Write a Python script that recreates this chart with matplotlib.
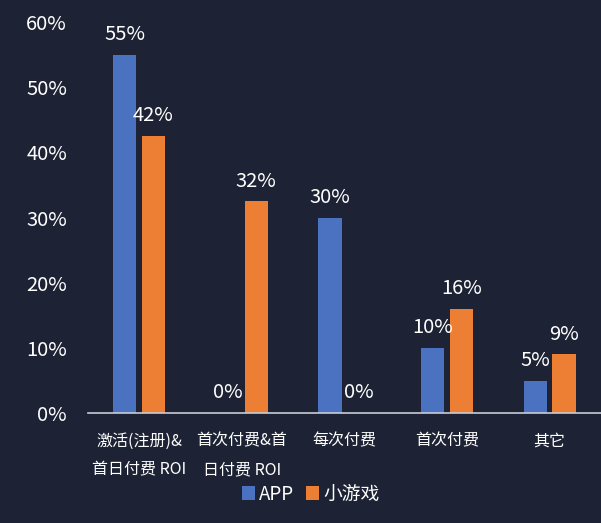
import numpy as np
import matplotlib.pyplot as plt

plt.rcParams['font.family'] = ['Noto Sans CJK SC', 'DejaVu Sans']

# 数据
categories = ['激活(注册)&\n首日付费 ROI', '首次付费&首\n日付费 ROI', '每次付费', '首次付费', '其它']
app_vals = [55, 0, 30, 10, 5]
game_vals = [42.5, 32.5, 0, 16, 9]
app_labels = ['55%', '0%', '30%', '10%', '5%']
game_labels = ['42%', '32%', '0%', '16%', '9%']
yticks = [0, 10, 20, 30, 40, 50, 60]

bg = '#1d2334'
blue = '#4a72c0'
orange = '#ec7f34'

fig = plt.figure(figsize=(6.01, 5.23), dpi=100, facecolor=bg)
ax = fig.add_axes([0.146, 0.21, 0.854, 0.748], facecolor=bg)

x = np.arange(len(categories))
w = 0.225
off = 0.14
ax.bar(x - off, app_vals, w, color=blue, label='APP')
ax.bar(x + off, game_vals, w, color=orange, label='小游戏')

for xi, v, t in zip(x, app_vals, app_labels):
    ax.annotate(t, (xi - off, v), xytext=(0, 7), textcoords='offset points',
                ha='center', va='bottom', color='white', fontsize=14.5)
for xi, v, t in zip(x, game_vals, game_labels):
    ax.annotate(t, (xi + off, v), xytext=(0, 7), textcoords='offset points',
                ha='center', va='bottom', color='white', fontsize=14.5)

ax.set_ylim(0, 60)
ax.set_xlim(-0.5, len(categories) - 0.5)
ax.set_yticks(yticks)
ax.set_yticklabels([f'{t}%' for t in yticks], color='white', fontsize=14.5)
ax.set_xticks(x)
ax.set_xticklabels(categories, color='white', fontsize=11.5, linespacing=1.9)
ax.tick_params(length=0, pad=14)
ax.tick_params(axis='y', pad=15)
for s in ['top', 'right', 'left']:
    ax.spines[s].set_visible(False)
ax.spines['bottom'].set_color('#c8ccd4')
ax.spines['bottom'].set_linewidth(1.2)

fig.legend(loc='lower center', bbox_to_anchor=(0.517, 0.003), ncol=2, frameon=False,
           fontsize=13.5, handlelength=0.7, handleheight=0.7, handletextpad=0.25,
           columnspacing=0.6, labelcolor='white')

fig.savefig('out.png', dpi=100, facecolor=bg)
